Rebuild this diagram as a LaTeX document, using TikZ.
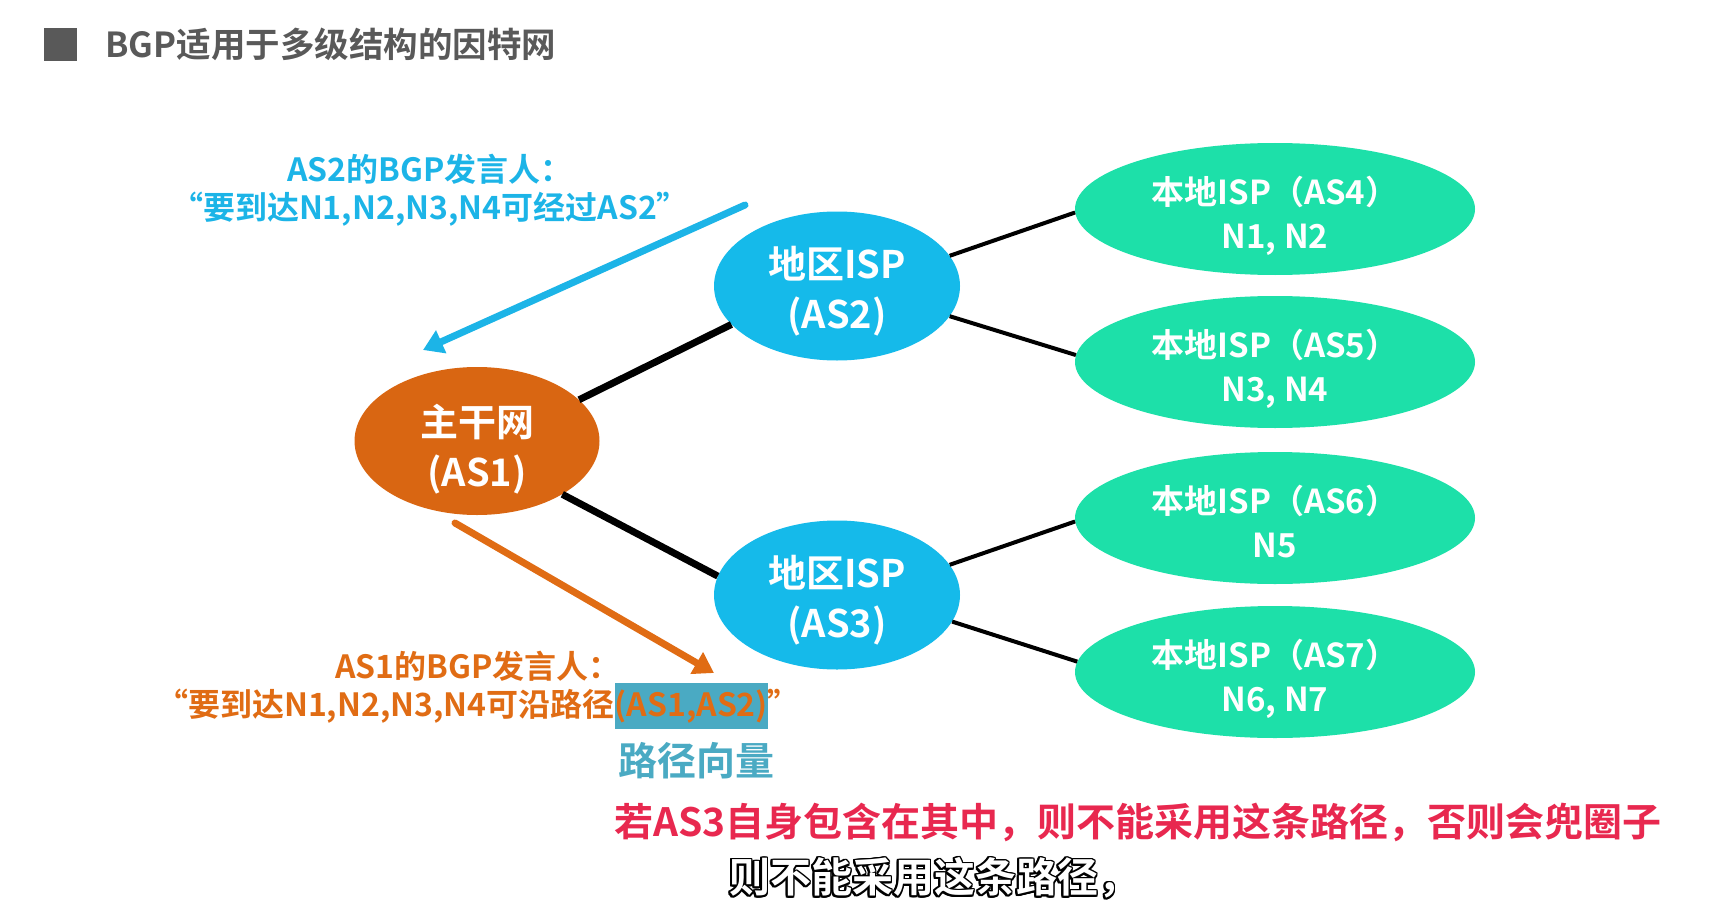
\documentclass[tikz,border=0pt]{standalone}
\usepackage{fontspec}
\setmainfont{Noto Sans CJK SC}[BoldFont={* Bold}]
\usepackage{contour}
\usetikzlibrary{positioning,arrows.meta,shapes.geometric}

\definecolor{bbgray}{HTML}{595959}
\definecolor{asorange}{HTML}{D96612}
\definecolor{asblue}{HTML}{15BAEA}
\definecolor{asgreen}{HTML}{1DE0A9}
\definecolor{txtblue}{HTML}{1CB4E7}
\definecolor{txtorange}{HTML}{E06C14}
\definecolor{pathteal}{HTML}{4AAAC3}
\definecolor{subred}{HTML}{E8284F}

\newcommand{\pathbox}[1]{{\setlength{\fboxsep}{0pt}\colorbox{pathteal}{\rule[-13pt]{0pt}{46pt}#1}}}

\begin{document}
\begin{tikzpicture}[x=1pt, y=-1pt,
    isp/.style={ellipse, fill=#1, text=white, inner sep=0pt, align=center, font=\fontsize{38}{50}\selectfont\bfseries, text height=90pt, text depth=5pt, minimum width=246pt, minimum height=149pt},
    local/.style={ellipse, fill=asgreen, text=white, inner sep=0pt, align=center, font=\fontsize{33}{44}\selectfont\bfseries, text height=82pt, text depth=3pt, minimum width=400pt, minimum height=132pt},
    trunk/.style={line width=7pt},
    branch/.style={line width=4pt},
    say/.style={draw=#1, line width=7pt, line cap=round, -{Triangle[length=20pt,width=24pt]}},
    note/.style={text=#1, align=center, inner sep=0pt, font=\fontsize{32}{38}\selectfont\bfseries},
    caption/.style={inner sep=0pt, font=\fontsize{39}{48}\selectfont\bfseries}
]
\useasboundingbox (0,0) rectangle (1715,904);

\node[fill=bbgray, minimum size=33pt, inner sep=0pt] (sq) at (60.5,44.5) {};
\node[right=28pt of sq, inner sep=0pt, text=bbgray, font=\fontsize{34.5}{40}\selectfont\bfseries] (title) {BGP适用于多级结构的因特网};

\node[isp=asorange, minimum width=245pt, minimum height=148pt, text height=95pt, text depth=4pt] (as1) at (477,441) {主干网\\(AS1)};
\node[isp=asblue] (as2) at (837,286) {地区ISP\\(AS2)};
\node[isp=asblue] (as3) at (837,595) {地区ISP\\(AS3)};
\node[local] (as4) at (1275,209) {本地ISP（AS4）\\N1, N2};
\node[local] (as5) at (1275,362) {本地ISP（AS5）\\N3, N4};
\node[local] (as6) at (1275,518) {本地ISP（AS6）\\N5};
\node[local] (as7) at (1275,672) {本地ISP（AS7）\\N6, N7};

\draw[trunk] (as1.22) -- (as2.200);
\draw[trunk] (as1.-32) -- (as3.171);
\draw[branch] (as2.15) -- (as4.181);
\draw[branch] (as2.-15) -- (as5.178);
\draw[branch] (as3.15) -- (as6.181);
\draw[branch] (as3.-13) -- (as7.177);

\node[note=txtblue] (say2) at (430,190) {AS2的BGP发言人：\\“要到达N1,N2,N3,N4可经过AS2”};
\coordinate (from2) at (745,205);
\coordinate (to1) at (423,350);
\draw[say=txtblue] (from2) -- (to1);

\coordinate (from1) at (455,523);
\coordinate (to3) at (714,673);
\draw[say=txtorange] (from1) -- (to3);
\node[note=txtorange] (say1) at (478,690) {AS1的BGP发言人：\\“要到达N1,N2,N3,N4可沿路径\pathbox{(AS1,AS2)}”};

\node[caption, text=pathteal] (vec) at (696,761) {路径向量};
\node[caption, text=subred] (loop) at (1138,822) {若AS3自身包含在其中，则不能采用这条路径，否则会兜圈子};
\node[caption, text=white, font=\fontsize{41}{48}\selectfont\bfseries] (sub) at (934,879) {\contourlength{1.5pt}\contour{black}{则不能采用这条路径，}};
\end{tikzpicture}
\end{document}
